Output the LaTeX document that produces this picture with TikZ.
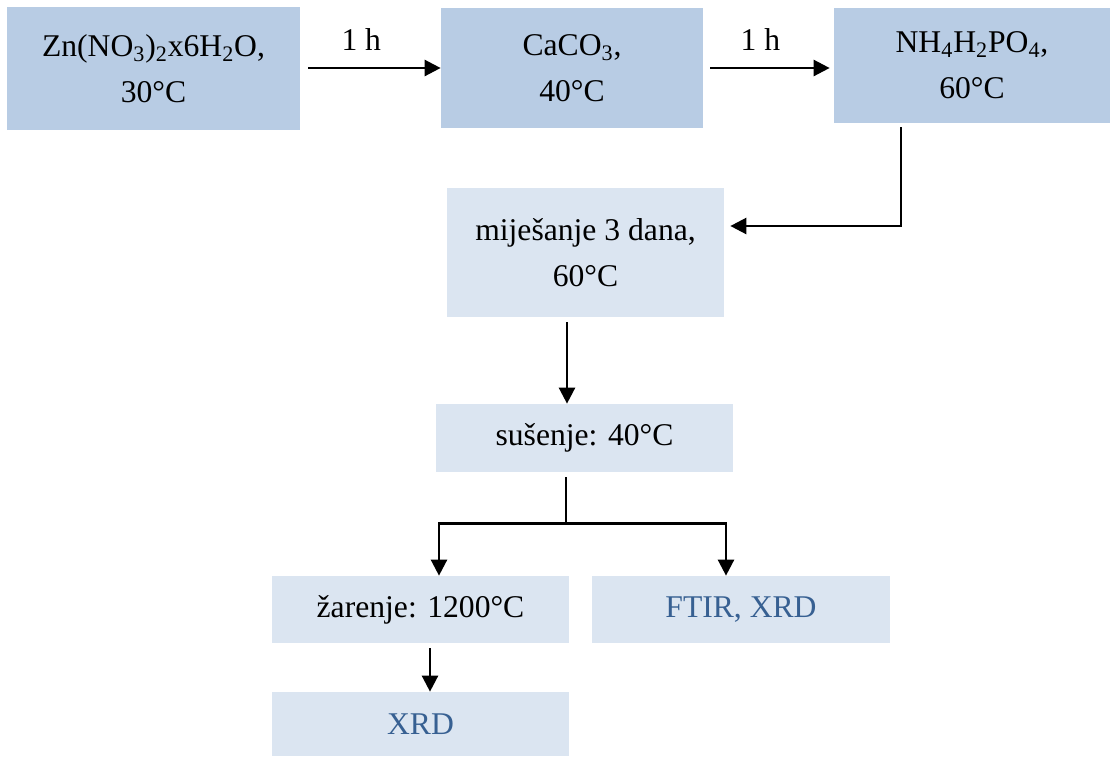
\documentclass[tikz,border=0pt]{standalone}
\usepackage{fontspec}
\setmainfont{Liberation Serif}
\usetikzlibrary{arrows.meta}

\definecolor{boxdunkel}{HTML}{B8CCE4}
\definecolor{boxhell}{HTML}{DBE5F1}
\definecolor{textblau}{HTML}{376092}

\tikzset{
  kasten/.style={fill=boxdunkel, inner sep=0pt, align=center},
  kastenhell/.style={kasten, fill=boxhell},
  pfeil/.style={line width=0.05cm, -{Triangle[length=0.32cm,width=0.32cm]}},
  linie/.style={line width=0.05cm}
}

\begin{document}
\begin{tikzpicture}[font=\fontsize{18}{26}\selectfont]
          \useasboundingbox (0cm,0cm) rectangle (22.2cm,-15.12cm);

          %obere Reihe
          \node[kasten, minimum width=5.86cm, minimum height=2.46cm] (zn) at (3.07cm,-1.37cm) {Zn(NO\textsubscript{3})\textsubscript{2}x6H\textsubscript{2}O,\\30°C};
          \node[kasten, minimum width=5.24cm, minimum height=2.4cm] (ca) at (11.44cm,-1.36cm) {CaCO\textsubscript{3},\\40°C};
          \node[kasten, minimum width=5.52cm, minimum height=2.3cm] (nh) at (19.44cm,-1.31cm) {NH\textsubscript{4}H\textsubscript{2}PO\textsubscript{4},\\60°C};

          %Schritte
          \node[kastenhell, minimum width=5.54cm, minimum height=2.58cm] (mix) at (11.71cm,-5.05cm) {miješanje 3 dana,\\60°C};
          \node[kastenhell, minimum width=5.94cm, minimum height=1.36cm] (dry) at (11.69cm,-8.76cm) {sušenje: 40°C};
          \node[kastenhell, minimum width=5.94cm, minimum height=1.34cm] (gl) at (8.41cm,-12.19cm) {žarenje: 1200°C};
          \node[kastenhell, minimum width=5.96cm, minimum height=1.34cm, text=textblau] (ft) at (14.82cm,-12.19cm) {FTIR, XRD};
          \node[kastenhell, minimum width=5.94cm, minimum height=1.28cm, text=textblau] (xr) at (8.41cm,-14.48cm) {XRD};

          %Pfeile
          \draw[pfeil] ([xshift=0.16cm]zn.east |- ca.west) -- (ca.west) node[pos=0.4, yshift=0.56cm] {1 h};
          \draw[pfeil] ([xshift=0.14cm]ca.east) -- ([xshift=-0.08cm]nh.west |- ca.east) node[pos=0.42, yshift=0.56cm] {1 h};
          \draw[pfeil] ([xshift=-1.42cm,yshift=-0.08cm]nh.south) |- ([xshift=0.12cm,yshift=0.53cm]mix.east);
          \draw[pfeil] ([xshift=-0.37cm,yshift=-0.1cm]mix.south) -- ([xshift=-0.37cm]mix.south |- dry.north);

          \coordinate (teil) at ([xshift=-0.37cm,yshift=-1.02cm]dry.south);
          \draw[linie] ([xshift=-0.37cm,yshift=-0.1cm]dry.south) -- (teil);
          \draw[pfeil] (teil) -| ([xshift=0.37cm]gl.north);
          \draw[pfeil] (teil) -| ([xshift=-0.3cm]ft.north);

          \draw[pfeil] ([xshift=0.19cm,yshift=-0.1cm]gl.south) -- ([xshift=0.19cm]gl.south |- xr.north);
\end{tikzpicture}
\end{document}
